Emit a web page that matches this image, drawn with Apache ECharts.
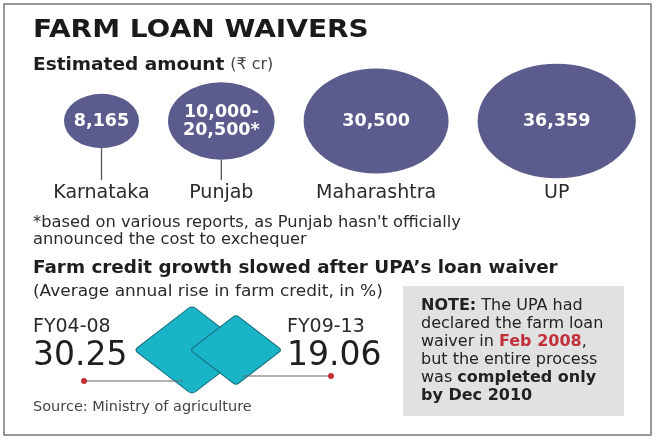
<!DOCTYPE html>
<html><head><meta charset="utf-8">
<script src="https://cdn.jsdelivr.net/npm/echarts@6/dist/echarts.min.js"></script>
<style>html,body{margin:0;padding:0;background:#fff}#c{width:660px;height:440px}</style>
</head><body><div id="c"></div>
<script>
// ---- data ----
const states = ['Karnataka', 'Punjab', 'Maharashtra', 'UP'];
const amountLabels = ['8,165', '10,000-\n20,500*', '30,500', '36,359'];
// Punjab bubble size (range 10,000-20,500)
const amounts = [8165, 16500, 30500, 36359];
const periods = ['FY04-08', 'FY09-13'];
const creditGrowth = [30.25, 19.06];

const FONT = '"DejaVu Sans","Noto Sans",sans-serif';
const bubbleW = v => 0.83 * Math.sqrt(v);
const bubbleH = v => bubbleW(v) / 1.38;
const diaW = v => 20.36 * Math.sqrt(v);
const diaH = v => diaW(v) / 1.3;

// packed bubble layout computed from bubble sizes
const GAP = 29, START = 101.5;
const xs = [];
amounts.forEach((v, i) => {
  xs.push(i === 0 ? START : xs[i - 1] + bubbleW(amounts[i - 1]) / 2 + GAP + bubbleW(v) / 2);
});

const DIAMOND = 'path://M47,3 Q50,0 53,3 L97,47 Q100,50 97,53 L53,97 Q50,100 47,97 L3,53 Q0,50 3,47 Z';

const chart = echarts.init(document.getElementById('c'), null, {renderer: 'canvas'});

const txt = (text, x, y, size, opts, sx) => ({
  type: 'text', x: x, y: y, z: 20, scaleX: sx || 1,
  style: Object.assign({text: text, fontSize: size, fontFamily: FONT, fill: '#1e1e1e', verticalAlign: 'middle', align: 'left'}, opts || {})
});

chart.setOption({
  backgroundColor: '#fff',
  animation: false,
  grid: [
    {left: 0, right: 0, top: 62, bottom: 260},
    {left: 170, width: 88, top: 300, height: 100}
  ],
  xAxis: [
    {type: 'value', min: 0, max: 660, show: false, gridIndex: 0},
    {type: 'category', data: periods, boundaryGap: true, show: false, gridIndex: 1}
  ],
  yAxis: [
    {type: 'value', min: -1, max: 1, show: false, gridIndex: 0},
    {type: 'value', min: -1, max: 1, show: false, gridIndex: 1}
  ],
  series: [
    {
      type: 'custom', xAxisIndex: 0, yAxisIndex: 0, z: 1,
      data: xs.map(x => [x, 0]),
      renderItem: (params, api) => {
        const i = params.dataIndex;
        const c = api.coord([api.value(0), 0]);
        const bottom = c[1] + bubbleH(amounts[i]) / 2;
        const base = api.coord([api.value(0), -1])[1];
        const children = [];
        if (base - bottom > 12) {
          children.push({type: 'line', shape: {x1: c[0], y1: bottom, x2: c[0], y2: base},
            style: {stroke: '#555', lineWidth: 1.3}});
        }
        children.push({type: 'text', x: c[0], y: base + 13,
          style: {text: states[i], align: 'center', verticalAlign: 'middle', fontSize: 19, fontFamily: FONT, fill: '#2a2a2a'}});
        return {type: 'group', children: children};
      }
    },
    {
      type: 'scatter', xAxisIndex: 0, yAxisIndex: 0, z: 2,
      symbol: 'circle',
      data: amounts.map((v, i) => [xs[i], 0]),
      symbolSize: (val, p) => [bubbleW(amounts[p.dataIndex]), bubbleH(amounts[p.dataIndex])],
      itemStyle: {color: '#5b5c8d', opacity: 1},
      label: {
        show: true, position: 'inside', color: '#fff', fontWeight: 'bold', fontSize: 17.5, lineHeight: 18,
        fontFamily: FONT, formatter: p => amountLabels[p.dataIndex]
      },
      emphasis: {disabled: true}
    },
    {
      type: 'scatter', xAxisIndex: 1, yAxisIndex: 1, z: 3,
      symbol: DIAMOND,
      data: creditGrowth.map((v, i) => ({
        value: [i, 0],
        label: i === 0 ? {position: 'left', distance: 8} : {position: 'right', distance: 6}
      })),
      symbolSize: (val, p) => [diaW(creditGrowth[p.dataIndex]), diaH(creditGrowth[p.dataIndex])],
      itemStyle: {color: '#19b4c8', borderColor: '#17707b', borderWidth: 1, opacity: 1},
      label: {
        show: true, offset: [0, -4],
        formatter: p => '{a|' + periods[p.dataIndex] + '}\n{b|' + creditGrowth[p.dataIndex].toFixed(2) + '}',
        rich: {
          a: {fontSize: 19, fontFamily: FONT, color: '#2a2a2a', lineHeight: 20, align: 'left'},
          b: {fontSize: 33, fontFamily: FONT, color: '#1e1e1e', lineHeight: 38, align: 'left'}
        }
      },
      emphasis: {disabled: true}
    }
  ],
  graphic: [
    {type: 'rect', z: 0, shape: {x: 4, y: 4, width: 647, height: 431}, style: {fill: 'none', stroke: '#777', lineWidth: 1.5}},
    txt('FARM LOAN WAIVERS', 33, 30, 25, {fontWeight: 'bold', fill: '#1a1a1a'}, 1.12),
    txt('{b|Estimated amount} {n|(₹ cr)}', 33, 65, 18.5, {rich: {
      b: {fontSize: 18.5, fontWeight: 'bold', fontFamily: FONT, fill: '#1e1e1e'},
      n: {fontSize: 16, fontFamily: FONT, fill: '#444'}}}),
    txt('*based on various reports, as Punjab hasn\'t officially\nannounced the cost to exchequer', 33, 231, 15.5, {lineHeight: 17, fill: '#2a2a2a'}, 1.05),
    txt('Farm credit growth slowed after UPA\u2019s loan waiver', 33, 269, 17, {fontWeight: 'bold'}, 1.08),
    txt('(Average annual rise in farm credit, in %)', 33, 292, 16, {fill: '#2a2a2a'}, 1.06),
    txt('Source: Ministry of agriculture', 33, 407, 14.5, {fill: '#444'}),
    {type: 'rect', z: 5, shape: {x: 403, y: 286, width: 221, height: 130}, style: {fill: '#e1e1e1'}},
    txt('{b|NOTE:} The UPA had\ndeclared the farm loan\nwaiver in {r|Feb 2008},\nbut the entire process\nwas {b|completed only}\n{b|by Dec 2010}', 421, 351, 16, {
      lineHeight: 18, fill: '#222', rich: {
        b: {fontSize: 16, fontWeight: 'bold', fontFamily: FONT, fill: '#222', lineHeight: 18},
        r: {fontSize: 16, fontWeight: 'bold', fontFamily: FONT, fill: '#c2303b', lineHeight: 18}
      }}),
    {type: 'line', z: 30, shape: {x1: 84, y1: 381, x2: 183, y2: 381}, style: {stroke: '#666', lineWidth: 1}},
    {type: 'circle', z: 31, shape: {cx: 84, cy: 381, r: 3}, style: {fill: '#c62f3a'}},
    {type: 'line', z: 30, shape: {x1: 243, y1: 376, x2: 331, y2: 376}, style: {stroke: '#666', lineWidth: 1}},
    {type: 'circle', z: 31, shape: {cx: 331, cy: 376, r: 3}, style: {fill: '#c62f3a'}}
  ]
});
</script></body></html>
